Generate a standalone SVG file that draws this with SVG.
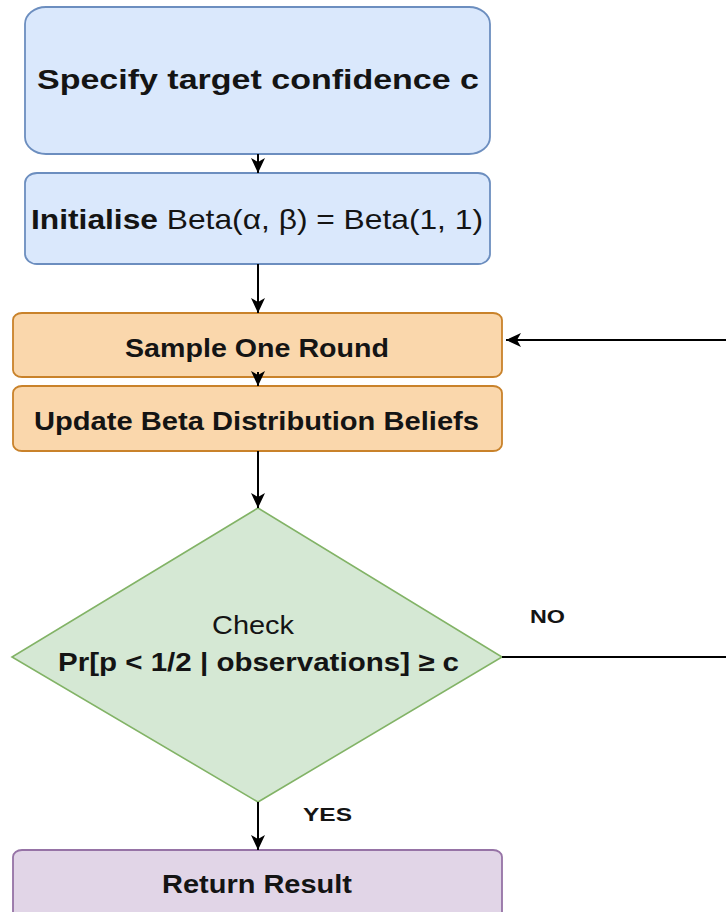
<svg xmlns="http://www.w3.org/2000/svg" width="726" height="912" viewBox="0 0 726 912">
  <defs>
    <marker id="arrow" markerUnits="userSpaceOnUse" markerWidth="16" markerHeight="14" refX="15" refY="7" orient="auto" viewBox="0 0 16 14">
      <path d="M0,0 L15,7 L0,14 L4,7 Z" fill="#000"/>
    </marker>
    <style>
      .t { font-family: "Liberation Sans", Arial, sans-serif; fill: #141414; }
      .b { font-weight: bold; }
      .blue { fill: #dae8fc; stroke: #6c8ebf; stroke-width: 1.8; }
      .orange { fill: #fad7ac; stroke: #c9822a; stroke-width: 1.8; }
      .green { fill: #d5e8d4; stroke: #82b366; stroke-width: 1.6; }
      .purple { fill: #e1d5e7; stroke: #9673a6; stroke-width: 1.8; }
      .edge { fill: none; stroke: #000; stroke-width: 2; }
    </style>
  </defs>

  <rect width="726" height="912" fill="#ffffff"/>

  <g id="specify">
    <rect class="blue" x="25" y="7" width="465" height="147" rx="21" ry="17"/>
    <text class="t b" x="37" y="89" font-size="28" textLength="442" lengthAdjust="spacingAndGlyphs">Specify target confidence c</text>
  </g>

  <g id="initialise">
    <rect class="blue" x="25" y="173" width="465" height="91" rx="12" ry="10"/>
    <text class="t" x="31" y="229" font-size="28" textLength="452" lengthAdjust="spacingAndGlyphs"><tspan class="b">Initialise</tspan> Beta(α, β) = Beta(1, 1)</text>
  </g>

  <g id="sample">
    <rect class="orange" x="13" y="313" width="489" height="64" rx="9" ry="7"/>
    <text class="t b" x="125" y="357" font-size="26" textLength="264" lengthAdjust="spacingAndGlyphs">Sample One Round</text>
  </g>

  <g id="update">
    <rect class="orange" x="13" y="386" width="489" height="65" rx="9" ry="7"/>
    <text class="t b" x="34" y="430" font-size="26" textLength="445" lengthAdjust="spacingAndGlyphs">Update Beta Distribution Beliefs</text>
  </g>

  <g id="check">
    <polygon class="green" points="258,508 502,657 258,802 12,657"/>
    <text class="t" x="212" y="634" font-size="25" textLength="82" lengthAdjust="spacingAndGlyphs">Check</text>
    <text class="t b" x="58" y="671" font-size="26" textLength="401" lengthAdjust="spacingAndGlyphs">Pr[p &lt; 1/2 | observations] ≥ c</text>
  </g>

  <g id="return">
    <rect class="purple" x="13" y="850" width="489" height="72" rx="9" ry="7"/>
    <text class="t b" x="162" y="893" font-size="26" textLength="190" lengthAdjust="spacingAndGlyphs">Return Result</text>
  </g>

  <g id="connectors">
    <line class="edge" x1="258" y1="154" x2="258" y2="173" marker-end="url(#arrow)"/>
    <line class="edge" x1="258" y1="264" x2="258" y2="313" marker-end="url(#arrow)"/>
    <line class="edge" x1="258" y1="372" x2="258" y2="386" marker-end="url(#arrow)"/>
    <line class="edge" x1="258" y1="451" x2="258" y2="508" marker-end="url(#arrow)"/>
    <line class="edge" x1="258" y1="802" x2="258" y2="850" marker-end="url(#arrow)"/>
    <polyline class="edge" points="502,657 740,657 740,340 506,340" marker-end="url(#arrow)"/>
    <text class="t b" x="530" y="623" font-size="19" textLength="35" lengthAdjust="spacingAndGlyphs">NO</text>
    <text class="t b" x="303" y="821" font-size="19" textLength="49" lengthAdjust="spacingAndGlyphs">YES</text>
  </g>
</svg>
